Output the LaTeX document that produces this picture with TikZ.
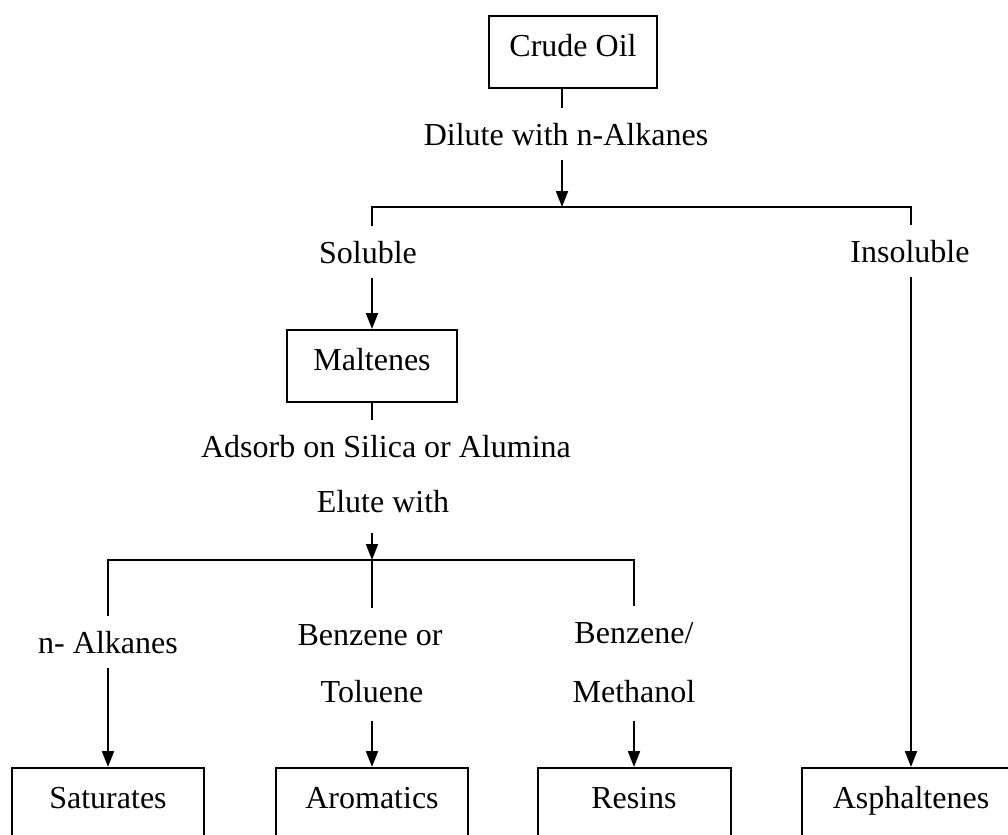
\documentclass[tikz,border=0pt]{standalone}
\usepackage{fontspec}
\setmainfont{Liberation Serif}
\usetikzlibrary{arrows.meta}
\begin{document}
\begin{tikzpicture}[x=0.5pt,y=-0.5pt,line width=1pt,
        every node/.style={font=\fontsize{16pt}{19pt}\selectfont},
        box/.style={draw,line width=1pt,anchor=north,inner sep=4pt,text height=16pt,text depth=12pt},
        lbl/.style={anchor=base,inner xsep=2pt,inner ysep=7pt,text height=11pt,text depth=0pt},
        arr/.style={-{Triangle[width=6pt,length=8pt]}}]
        \useasboundingbox (0,0) rectangle (1008,835);
        \clip (0,0) rectangle (1008,835);
        \node[box,minimum width=84pt] (crude) at (573,15) {Crude Oil};
        \node[lbl] (dil) at (566,145) {Dilute with n-Alkanes};
        \node[lbl] (sol) at (368,263) {Soluble};
        \node[lbl] (insol) at (910,262) {Insoluble};
        \node[box,minimum width=85pt] (malt) at (372,329) {Maltenes};
        \node[lbl] (ads) at (386,457) {Adsorb on Silica or Alumina};
        \node[lbl,text depth=3pt] (elu) at (383,512) {Elute with};
        \node[lbl] (alk) at (108,653) {n- Alkanes};
        \node[lbl] (benz) at (370,645) {Benzene or};
        \node[lbl,text depth=2pt] (tol) at (372,702) {Toluene};
        \node[lbl] (bmeth) at (634,643) {Benzene/};
        \node[lbl,text depth=2pt] (meth) at (634,702) {Methanol};
        \node[box,minimum width=96pt] (sat) at (108,767) {Saturates};
        \node[box,minimum width=96pt] (arom) at (372,767) {Aromatics};
        \node[box,minimum width=96.5pt] (res) at (634,767) {Resins};
        \node[box,minimum width=109pt] (asph) at (911,767) {Asphaltenes};
        \coordinate (sp) at (562,207);
        \coordinate (spl) at (372,207);
        \coordinate (spr) at (911,207);
        \coordinate (el) at (372,560);
        \coordinate (ell) at (108,560);
        \coordinate (elr) at (634,560);
        \draw (crude.south -| sp) -- (dil.north -| sp);
        \draw[arr] (dil.south -| sp) -- (sp);
        \draw (sol.north -| spl) -- (spl) -- (spr) -- (insol.north -| spr);
        \draw[arr] (sol.south -| spl) -- (malt.north);
        \draw[arr] (insol.south -| spr) -- (asph.north);
        \draw (malt.south) -- (ads.north -| malt.south);
        \draw[arr] (elu.south -| el) -- (el);
        \draw (alk.north -| ell) -- (ell) -- (elr) -- (bmeth.north -| elr);
        \draw (el) -- (benz.north -| el);
        \draw[arr] (alk.south -| ell) -- (sat.north);
        \draw[arr] (tol.south -| el) -- (arom.north);
        \draw[arr] (meth.south -| elr) -- (res.north);
    \end{tikzpicture}
\end{document}
